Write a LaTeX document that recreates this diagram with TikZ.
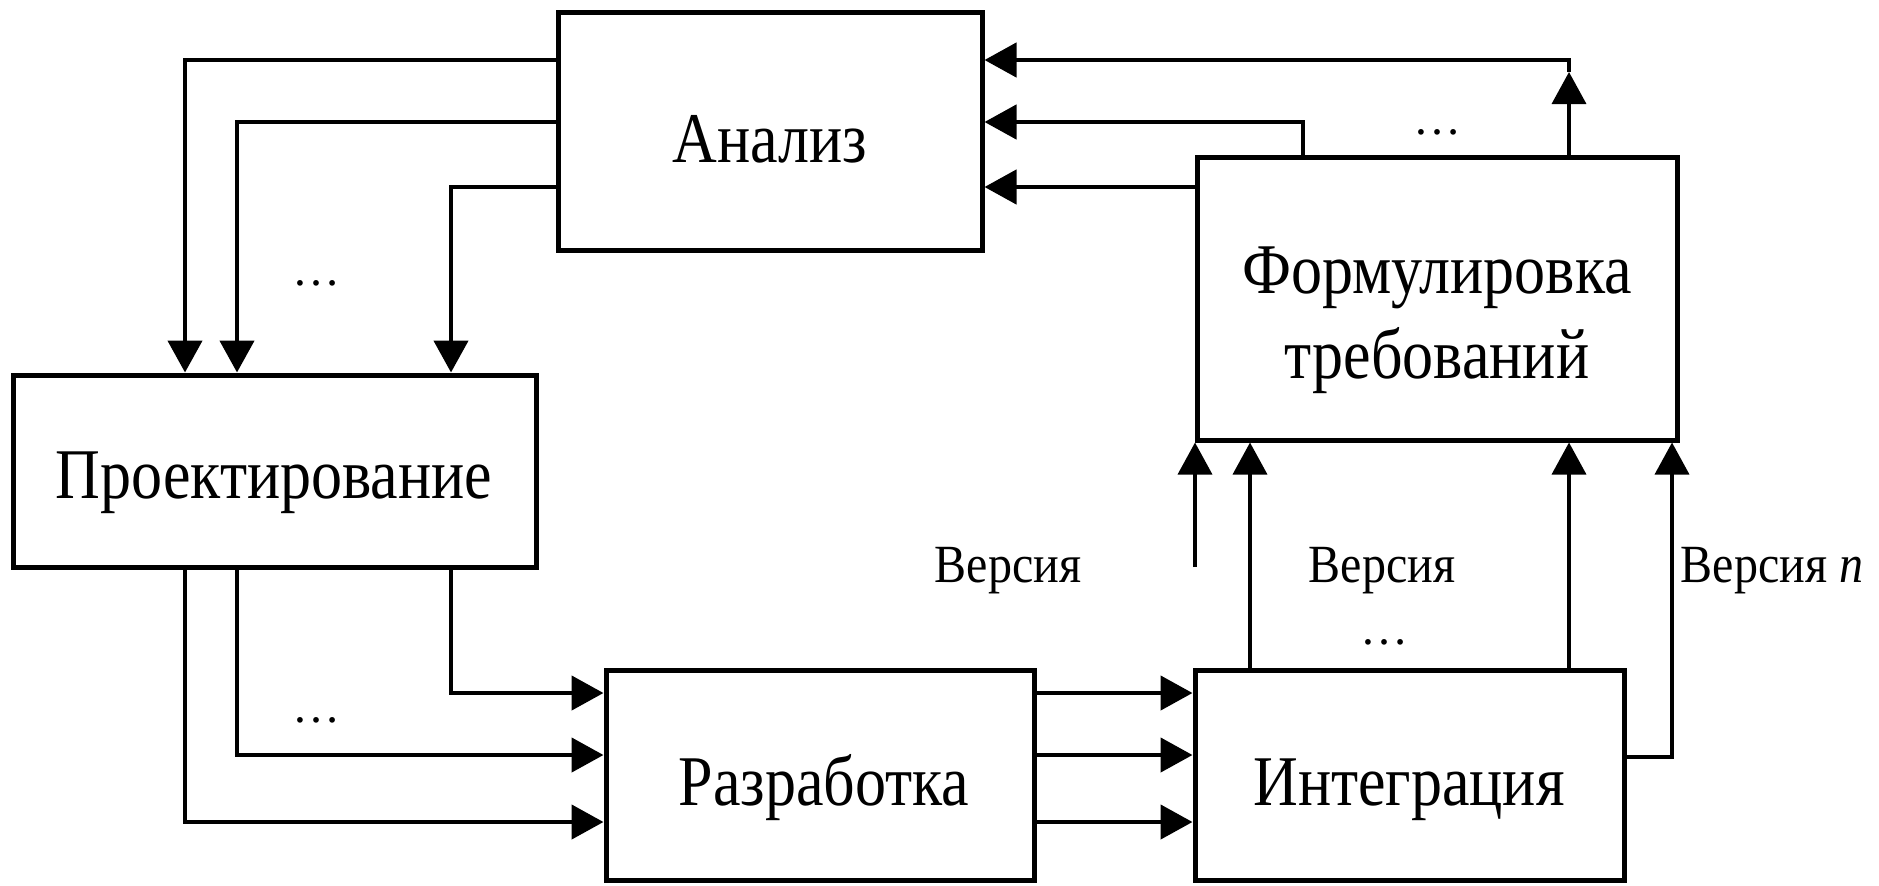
\documentclass[tikz,border=0pt]{standalone}
\usepackage{fontspec}
\setmainfont{Liberation Serif}
\usepackage{graphicx}
\usetikzlibrary{arrows.meta}
\begin{document}
\begin{tikzpicture}[x=0.5pt,y=-0.5pt,
  box/.style={draw, line width=2.5pt, inner sep=0pt},
  conn/.style={line width=2.3pt, -{Triangle[length=16pt,width=17pt]}},
  thinconn/.style={line width=1.8pt, -{Triangle[length=16pt,width=17pt]}},
  big/.style={font=\fontsize{31}{42}\selectfont, inner sep=0pt, anchor=base},
  small/.style={font=\fontsize{24}{30}\selectfont, inner sep=0pt, anchor=base},
]
\useasboundingbox (0,0) rectangle (1879,885);
\fill[white] (0,0) rectangle (1879,885);

% boxes
\node[box, minimum width=212pt, minimum height=119pt] (analiz) at (770,131) {};
\node[box, minimum width=240pt, minimum height=141.5pt] (form) at (1437,298.5) {};
\node[box, minimum width=261.5pt, minimum height=96pt] (proekt) at (274.5,471) {};
\node[box, minimum width=214pt, minimum height=105pt] (razrab) at (820,775) {};
\node[box, minimum width=214.5pt, minimum height=105pt] (integ) at (1409.5,775) {};

% box texts
\node[big] (tanaliz) at (770,162) {\scalebox{1}[1.15]{Анализ}};
\node[big] (tproekt) at (274,498) {\scalebox{1}[1.15]{Проектирование}};
\node[big] (trazrab) at (824,805) {\scalebox{1}[1.15]{Разработка}};
\node[big] (tinteg) at (1409,805) {\scalebox{1}[1.15]{Интеграция}};
\node[big] (tform1) at (1437,293) {\scalebox{1}[1.15]{Формулировка}};
\node[big] (tform2) at (1437,378) {\scalebox{1}[1.15]{требований}};

% labels
\node[small] (v1) at (1008,582) {\scalebox{1}[1.12]{Версия}};
\node[small] (v2) at (1382,582) {\scalebox{1}[1.12]{Версия}};
\node[small] (v3) at (1772,582) {\scalebox{1}[1.12]{Версия \textit{n}}};
\node[small] (d1) at (316,285) {…};
\node[small] (d2) at (316,722) {…};
\node[small] (d3) at (1437,134) {…};
\node[small] (d4) at (1384,644) {…};

% helper coordinates
\coordinate (ya) at (0,60);
\coordinate (yb) at (0,122);
\coordinate (yc) at (0,187);
\coordinate (xa) at (185,0);
\coordinate (xb) at (237,0);
\coordinate (xc) at (451,0);
\coordinate (yd) at (0,693);
\coordinate (ye) at (0,755);
\coordinate (yf) at (0,822);
\coordinate (yg) at (0,757);
\coordinate (xg) at (1250,0);
\coordinate (xh) at (1569,0);
\coordinate (xi) at (1672,0);
\coordinate (xj) at (1303,0);
\coordinate (free) at (1195,567);
\coordinate (mid) at (1569,72);

% Analiz -> Proektirovanie
\draw[conn] (analiz.west |- ya) -| (proekt.north -| xa);
\draw[conn] (analiz.west |- yb) -| (proekt.north -| xb);
\draw[conn] (analiz.west |- yc) -| (proekt.north -| xc);

% Proektirovanie -> Razrabotka
\draw[conn] (proekt.south -| xa) |- (razrab.west |- yf);
\draw[conn] (proekt.south -| xb) |- (razrab.west |- ye);
\draw[conn] (proekt.south -| xc) |- (razrab.west |- yd);

% Razrabotka -> Integratsiya
\draw[conn] (razrab.east |- yd) -- (integ.west |- yd);
\draw[conn] (razrab.east |- ye) -- (integ.west |- ye);
\draw[conn] (razrab.east |- yf) -- (integ.west |- yf);

% Integratsiya -> Formulirovka
\draw[thinconn] (free) -- (form.south -| free);
\draw[thinconn] (integ.north -| xg) -- (form.south -| xg);
\draw[thinconn] (integ.north -| xh) -- (form.south -| xh);
\draw[thinconn] (integ.east |- yg) -| (form.south -| xi);

% Formulirovka -> Analiz
\draw[conn] (form.west |- yc) -- (analiz.east |- yc);
\draw[conn] (form.north -| xj) |- (analiz.east |- yb);
\draw[thinconn] (form.north -| xh) -- (mid);
\draw[conn] (mid) |- (analiz.east |- ya);
\end{tikzpicture}
\end{document}
